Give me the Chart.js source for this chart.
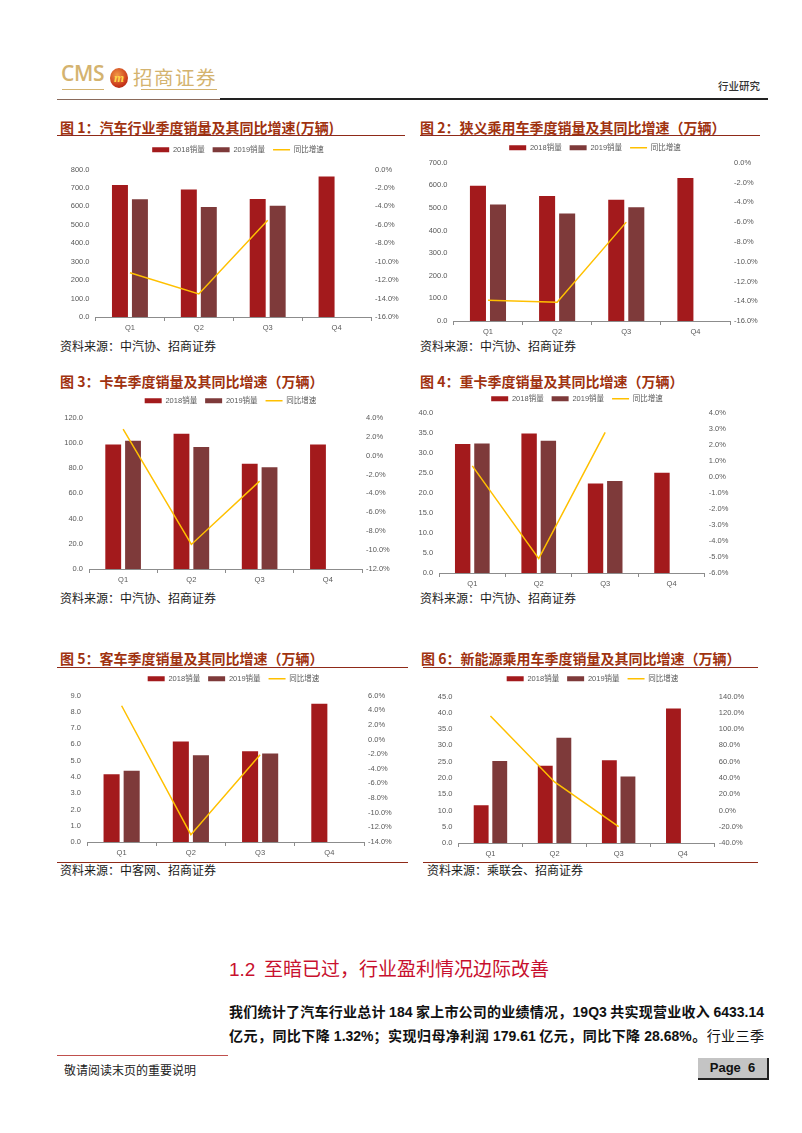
<!DOCTYPE html>
<html>
<head>
<meta charset="utf-8">
<script src="https://cdn.jsdelivr.net/npm/chart.js@4.4.1/dist/chart.umd.min.js"></script>
<style>
body { margin: 0; width: 802px; height: 1133px; background: #fff; position: relative; overflow: hidden; font-family: "Noto Sans CJK SC", sans-serif; }
.abs { position: absolute; white-space: nowrap; }
.title { position: absolute; font-size: 14px; font-weight: bold; color: #a0320f; line-height: 18px; white-space: nowrap; }
.src { position: absolute; font-size: 12px; color: #1a1a1a; line-height: 16px; white-space: nowrap; }
.rule { position: absolute; height: 1px; background: #8f2a18; }
.para { position: absolute; left: 229px; width: 535px; font-size: 14px; line-height: 18px; font-weight: bold; color: #111; text-align: justify; text-align-last: justify; white-space: nowrap; }
.para b { font-family: "Liberation Sans", sans-serif; }
</style>
</head>
<body>

<!-- header -->
<div class="abs" style="left:61px;top:59px;font:600 21px 'Open Sans';color:#d4b36f;letter-spacing:-0.3px">CMS</div>
<div class="abs" style="left:110px;top:68px;width:18px;height:20px;border-radius:50%;background:radial-gradient(circle at 40% 35%,#f39a45,#c8361a 65%,#8a1c10);color:#ffd54a;font:italic bold 13px 'Liberation Serif';line-height:19px;text-align:center">m</div>
<div class="abs" style="left:133px;top:62px;font-size:19.5px;color:#d4b36f;letter-spacing:1.5px">招商证券</div>
<div class="abs" style="left:62px;top:89px;width:42px;height:1px;background:#d4b36f"></div>
<div class="abs" style="left:141px;top:89px;width:76px;height:1px;background:#d4b36f"></div>
<div class="abs" style="left:718px;top:78px;font-size:10.5px;font-weight:500;color:#333">行业研究</div>
<div class="abs" style="left:57px;top:99px;width:163px;height:1px;background:#8a6a5a"></div>
<div class="abs" style="left:220px;top:98px;width:548px;height:2px;background:#222"></div>

<!-- titles -->
<div class="title" style="left:60px;top:118px">图 1：汽车行业季度销量及其同比增速(万辆)</div>
<div class="title" style="left:420px;top:118px">图 2：狭义乘用车季度销量及其同比增速（万辆）</div>
<div class="title" style="left:60px;top:372px">图 3：卡车季度销量及其同比增速（万辆）</div>
<div class="title" style="left:420px;top:372px">图 4：重卡季度销量及其同比增速（万辆）</div>
<div class="title" style="left:60px;top:649px">图 5：客车季度销量及其同比增速（万辆）</div>
<div class="title" style="left:421px;top:649px">图 6：新能源乘用车季度销量及其同比增速（万辆）</div>
<div class="rule" style="left:57px;top:135px;width:348px"></div>
<div class="rule" style="left:420px;top:135px;width:340px"></div>
<div class="rule" style="left:57px;top:667px;width:351px"></div>
<div class="rule" style="left:423px;top:667px;width:335px"></div>
<div class="rule" style="left:57px;top:862px;width:351px"></div>
<div class="rule" style="left:423px;top:862px;width:335px"></div>

<!-- sources -->
<div class="src" style="left:60px;top:338px">资料来源：中汽协、招商证券</div>
<div class="src" style="left:420px;top:338px">资料来源：中汽协、招商证券</div>
<div class="src" style="left:60px;top:590px">资料来源：中汽协、招商证券</div>
<div class="src" style="left:420px;top:590px">资料来源：中汽协、招商证券</div>
<div class="src" style="left:60px;top:862px">资料来源：中客网、招商证券</div>
<div class="src" style="left:427px;top:862px">资料来源：乘联会、招商证券</div>

<!-- text -->
<div class="abs" style="left:229px;top:954px;font-size:19px;color:#c8102e"><span style="font-family:'Liberation Sans'">1.2</span>&nbsp; 至暗已过，行业盈利情况边际改善</div>
<div class="para" style="top:1002px">我们统计了汽车行业总计 <b>184</b> 家上市公司的业绩情况，<b>19Q3</b> 共实现营业收入 <b>6433.14</b></div>
<div class="para" style="top:1026px">亿元，同比下降 <b>1.32%</b>；实现归母净利润 <b>179.61</b> 亿元，同比下降 <b>28.68%</b>。<span style="font-weight:normal">行业三季</span></div>

<!-- footer -->
<div class="abs" style="left:57px;top:1055px;width:171px;height:1px;background:#c0504d"></div>
<div class="abs" style="left:64px;top:1061px;font-size:12px;color:#222">敬请阅读末页的重要说明</div>
<div class="abs" style="left:698px;top:1058px;width:69px;height:20px;background:#c4c4c4;border-right:2px solid #222;border-bottom:2px solid #222;font:bold 13px 'Liberation Sans';line-height:20px;text-align:center;color:#111">Page&nbsp; 6</div>

<script>
const quarters = ['Q1', 'Q2', 'Q3', 'Q4'];
const seriesNames = ['2018销量', '2019销量', '同比增速'];

// 图1 汽车行业
const autoSales2018 = [716, 691, 640, 762];
const autoSales2019 = [638, 596, 604, null];
const autoGrowth = [-11.2, -13.5, -5.5, null];
const autoLeftAxis = [0, 800, 100];
const autoRightAxis = [-16, 0, 2];

// 图2 狭义乘用车
const carSales2018 = [599, 553, 536, 633];
const carSales2019 = [515, 476, 503, null];
const carGrowth = [-13.9, -14.1, -6.0, null];
const carLeftAxis = [0, 700, 100];
const carRightAxis = [-16, 0, 2];

// 图3 卡车
const truckSales2018 = [98.8, 107.3, 83.6, 98.8];
const truckSales2019 = [101.7, 96.9, 80.7, null];
const truckGrowth = [2.8, -9.4, -2.7, null];
const truckLeftAxis = [0, 120, 20];
const truckRightAxis = [-12, 4, 2];

// 图4 重卡
const heavySales2018 = [32.3, 34.9, 22.4, 25.1];
const heavySales2019 = [32.4, 33.1, 23.0, null];
const heavyGrowth = [0.7, -5.1, 2.8, null];
const heavyLeftAxis = [0, 40, 5];
const heavyRightAxis = [-6, 4, 1];

// 图5 客车
const busSales2018 = [4.16, 6.18, 5.58, 8.49];
const busSales2019 = [4.37, 5.33, 5.44, null];
const busGrowth = [4.6, -13.0, -2.1, null];
const busLeftAxis = [0, 9, 1];
const busRightAxis = [-14, 6, 2];

// 图6 新能源乘用车
const nevSales2018 = [11.6, 23.7, 25.4, 41.3];
const nevSales2019 = [25.2, 32.3, 20.4, null];
const nevGrowth = [116, 35, -20, null];
const nevLeftAxis = [0, 45, 5];
const nevRightAxis = [-40, 140, 20];

// plot box [left, top, right, bottom] and legend centre, in page pixels
const panels = [
    { s18: autoSales2018, s19: autoSales2019, g: autoGrowth, yl: autoLeftAxis, yr: autoRightAxis, plot: [95.5, 170, 371, 316.7], legend: [237.6, 150] },
    { s18: carSales2018, s19: carSales2019, g: carGrowth, yl: carLeftAxis, yr: carRightAxis, plot: [453.4, 163.3, 730, 321], legend: [595, 148] },
    { s18: truckSales2018, s19: truckSales2019, g: truckGrowth, yl: truckLeftAxis, yr: truckRightAxis, plot: [89, 418.3, 362, 569], legend: [230.5, 401] },
    { s18: heavySales2018, s19: heavySales2019, g: heavyGrowth, yl: heavyLeftAxis, yr: heavyRightAxis, plot: [439.1, 413.7, 704.8, 573.3], legend: [577, 398.7] },
    { s18: busSales2018, s19: busSales2019, g: busGrowth, yl: busLeftAxis, yr: busRightAxis, plot: [87, 696, 364, 841.7], legend: [233.5, 679] },
    { s18: nevSales2018, s19: nevSales2019, g: nevGrowth, yl: nevLeftAxis, yr: nevRightAxis, plot: [458.4, 697, 714.8, 843], legend: [592.5, 679.3] }
];

const smallFont = { family: 'Liberation Sans, Noto Sans CJK SC', size: 7.5 };
const grey = '#595959';

function drawPanel(p) {
    const [L, T, R, B] = p.plot;
    const [lx, ly] = p.legend;
    const pad = 8, xh = 16;
    const left = Math.round(L - 32);
    const right = Math.round(R + 32 + Math.max(0, 2 * lx - L - R));
    const top = Math.round(ly - pad - 4);
    const bottom = Math.round(B + xh);
    const wl = L - left, wr = right - R;
    const gap = T - top - (8 + pad + 10);

    const cv = document.createElement('canvas');
    cv.width = right - left;
    cv.height = bottom - top;
    cv.style.cssText = `position:absolute;left:${left}px;top:${top}px`;
    document.body.appendChild(cv);

    new Chart(cv, {
        data: {
            labels: quarters,
            datasets: [
                { type: 'bar', label: seriesNames[0], data: p.s18, backgroundColor: '#a31a1c', yAxisID: 'y', order: 1 },
                { type: 'bar', label: seriesNames[1], data: p.s19, backgroundColor: '#7e3a3a', yAxisID: 'y', order: 1 },
                { type: 'line', label: seriesNames[2], data: p.g, borderColor: '#ffc000', backgroundColor: '#ffc000',
                  borderWidth: 1.5, pointRadius: 0, tension: 0, yAxisID: 'y1', order: 0 }
            ]
        },
        options: {
            responsive: false,
            animation: false,
            layout: { padding: 0 },
            datasets: { bar: { categoryPercentage: 0.58, barPercentage: 0.8 } },
            plugins: {
                tooltip: { enabled: false },
                legend: {
                    labels: {
                        usePointStyle: true,
                        pointStyleWidth: 17,
                        boxHeight: 5,
                        padding: pad,
                        font: smallFont,
                        color: grey,
                        sort: (a, b) => a.datasetIndex - b.datasetIndex,
                        generateLabels: chart => Chart.defaults.plugins.legend.labels.generateLabels(chart)
                            .map(l => ({ ...l, pointStyle: l.datasetIndex === 2 ? 'line' : 'rect' }))
                    }
                }
            },
            scales: {
                x: {
                    offset: true,
                    grid: { display: true, drawOnChartArea: false, drawTicks: true, tickLength: 4, color: '#8c8c8c', offset: true },
                    border: { display: true, color: '#8c8c8c' },
                    ticks: { font: smallFont, color: grey, padding: 2, maxRotation: 0 },
                    afterFit: s => { s.height = xh; }
                },
                y: {
                    position: 'left',
                    min: p.yl[0], max: p.yl[1],
                    grid: { display: false, drawTicks: false },
                    border: { display: false },
                    ticks: { stepSize: p.yl[2], font: smallFont, color: grey, padding: 6, callback: v => v.toFixed(1) },
                    afterFit: s => { s.width = wl; }
                },
                y1: {
                    position: 'right',
                    min: p.yr[0], max: p.yr[1],
                    grid: { display: false, drawTicks: false },
                    border: { display: false },
                    ticks: { stepSize: p.yr[2], font: smallFont, color: grey, padding: 4, callback: v => v.toFixed(1) + '%' },
                    afterFit: s => { s.width = wr; }
                }
            }
        },
        plugins: [{
            id: 'legendGap',
            afterInit(chart) {
                const lg = chart.legend;
                const fit = lg.fit;
                lg.fit = function () { fit.call(this); this.height += gap; };
            }
        }]
    });
}

panels.forEach(drawPanel);
</script>
</body>
</html>
